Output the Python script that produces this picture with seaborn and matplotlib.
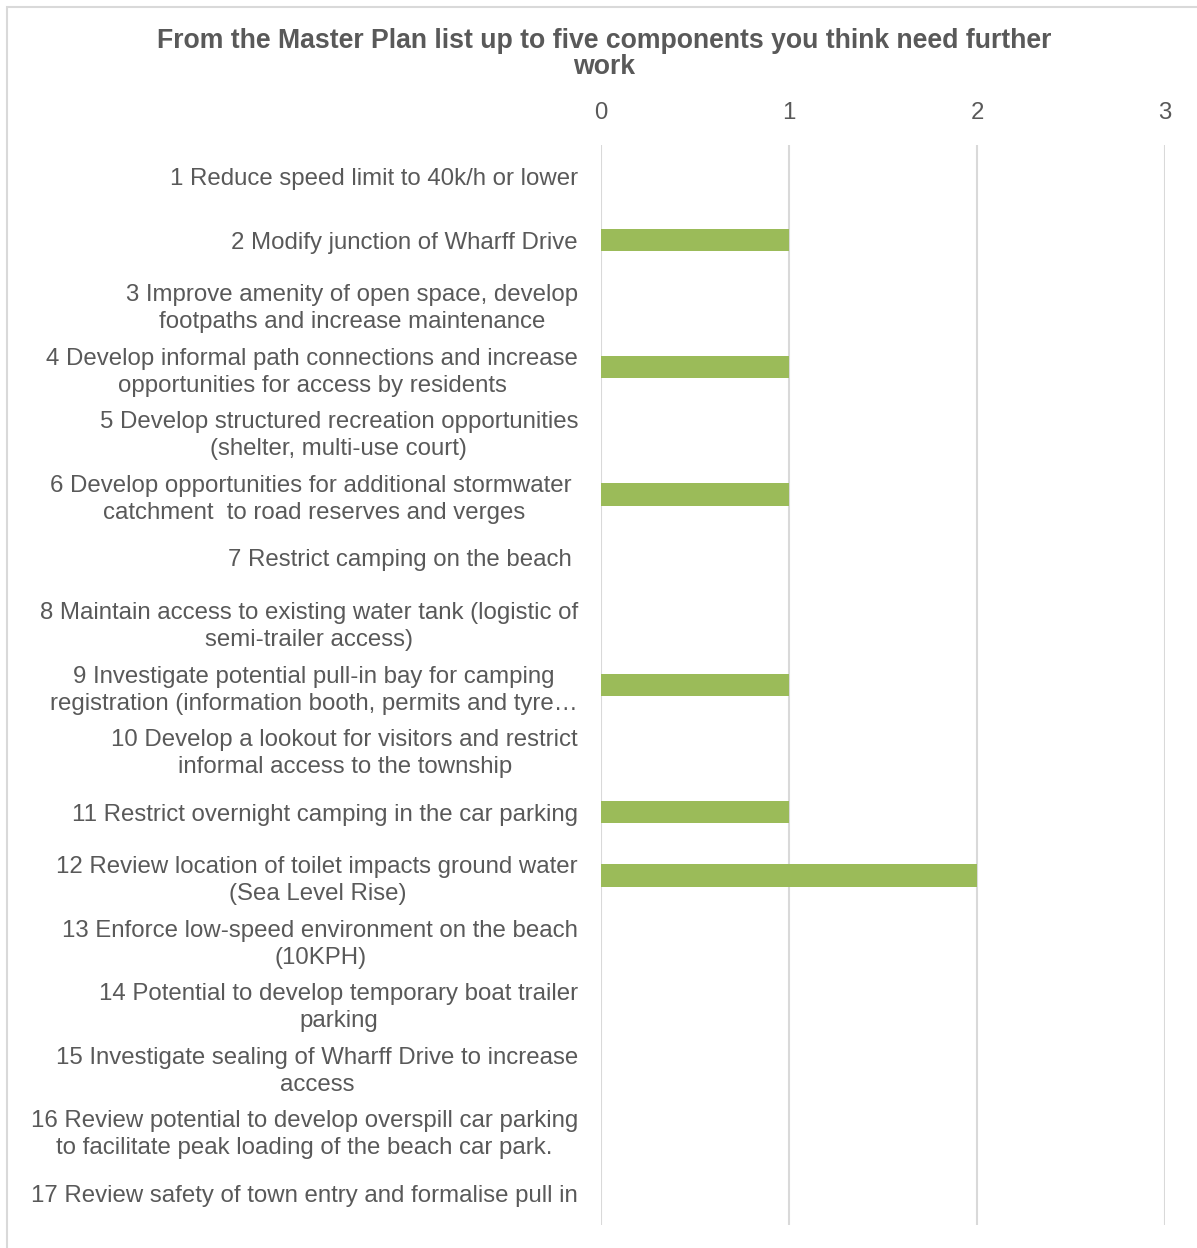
import matplotlib
matplotlib.use("Agg")
import matplotlib.pyplot as plt
import seaborn as sns
from matplotlib.patches import Rectangle

categories = [
    "1 Reduce speed limit to 40k/h or lower",
    "2 Modify junction of Wharff Drive",
    "3 Improve amenity of open space, develop\nfootpaths and increase maintenance",
    "4 Develop informal path connections and increase\nopportunities for access by residents",
    "5 Develop structured recreation opportunities\n(shelter, multi-use court)",
    "6 Develop opportunities for additional stormwater \ncatchment  to road reserves and verges",
    "7 Restrict camping on the beach ",
    "8 Maintain access to existing water tank (logistic of\nsemi-trailer access)",
    "9 Investigate potential pull-in bay for camping\nregistration (information booth, permits and tyre…",
    "10 Develop a lookout for visitors and restrict\ninformal access to the township",
    "11 Restrict overnight camping in the car parking",
    "12 Review location of toilet impacts ground water\n(Sea Level Rise)",
    "13 Enforce low-speed environment on the beach\n(10KPH)",
    "14 Potential to develop temporary boat trailer\nparking",
    "15 Investigate sealing of Wharff Drive to increase\naccess",
    "16 Review potential to develop overspill car parking\nto facilitate peak loading of the beach car park.",
    "17 Review safety of town entry and formalise pull in",
]
values = [0, 1, 0, 1, 0, 1, 0, 0, 1, 0, 1, 2, 0, 0, 0, 0, 0]
x_ticks = [0, 1, 2, 3]
title = "From the Master Plan list up to five components you think need further\nwork"

sns.set_theme(style="white")
plt.rcParams['font.family'] = ['Liberation Sans', 'DejaVu Sans']

TXT = "#595959"
fig = plt.figure(figsize=(11.97, 12.48), dpi=100)
ax = fig.add_axes([601/1197, 1 - 1225/1248, 564/1197, 1080/1248])

sns.barplot(x=values, y=categories, orient="h", color="#9BBB59",
            saturation=1, width=0.35, linewidth=0, edgecolor="none", ax=ax)

ax.set_xlim(0, 3)
ax.set_xticks(x_ticks)
ax.xaxis.tick_top()
ax.tick_params(axis="x", length=0, pad=15, labelsize=17.3, labelcolor=TXT)
ax.tick_params(axis="y", length=0, pad=16.5, labelsize=17.3, labelcolor=TXT)
for lab in ax.get_yticklabels():
    lab.set_multialignment("center")
    lab.set_linespacing(1.3)
for s in ax.spines.values():
    s.set_visible(False)
ax.grid(axis="x", color="#D9D9D9", linewidth=1.5)
ax.grid(axis="y", visible=False)
ax.set_axisbelow(True)
ax.set_xlabel("")
ax.set_ylabel("")

fig.text(604/1197, 1 - 28/1248, title, ha="center", va="top",
         fontsize=19.2, fontweight="bold", color=TXT, linespacing=0.98)

fig.patches.append(Rectangle((7/1197, -0.1), 1.2, 1.1 - 7/1248,
                             transform=fig.transFigure, fill=False,
                             edgecolor="#D9D9D9", linewidth=1.5, zorder=-1))

fig.savefig("out.png", dpi=100)
